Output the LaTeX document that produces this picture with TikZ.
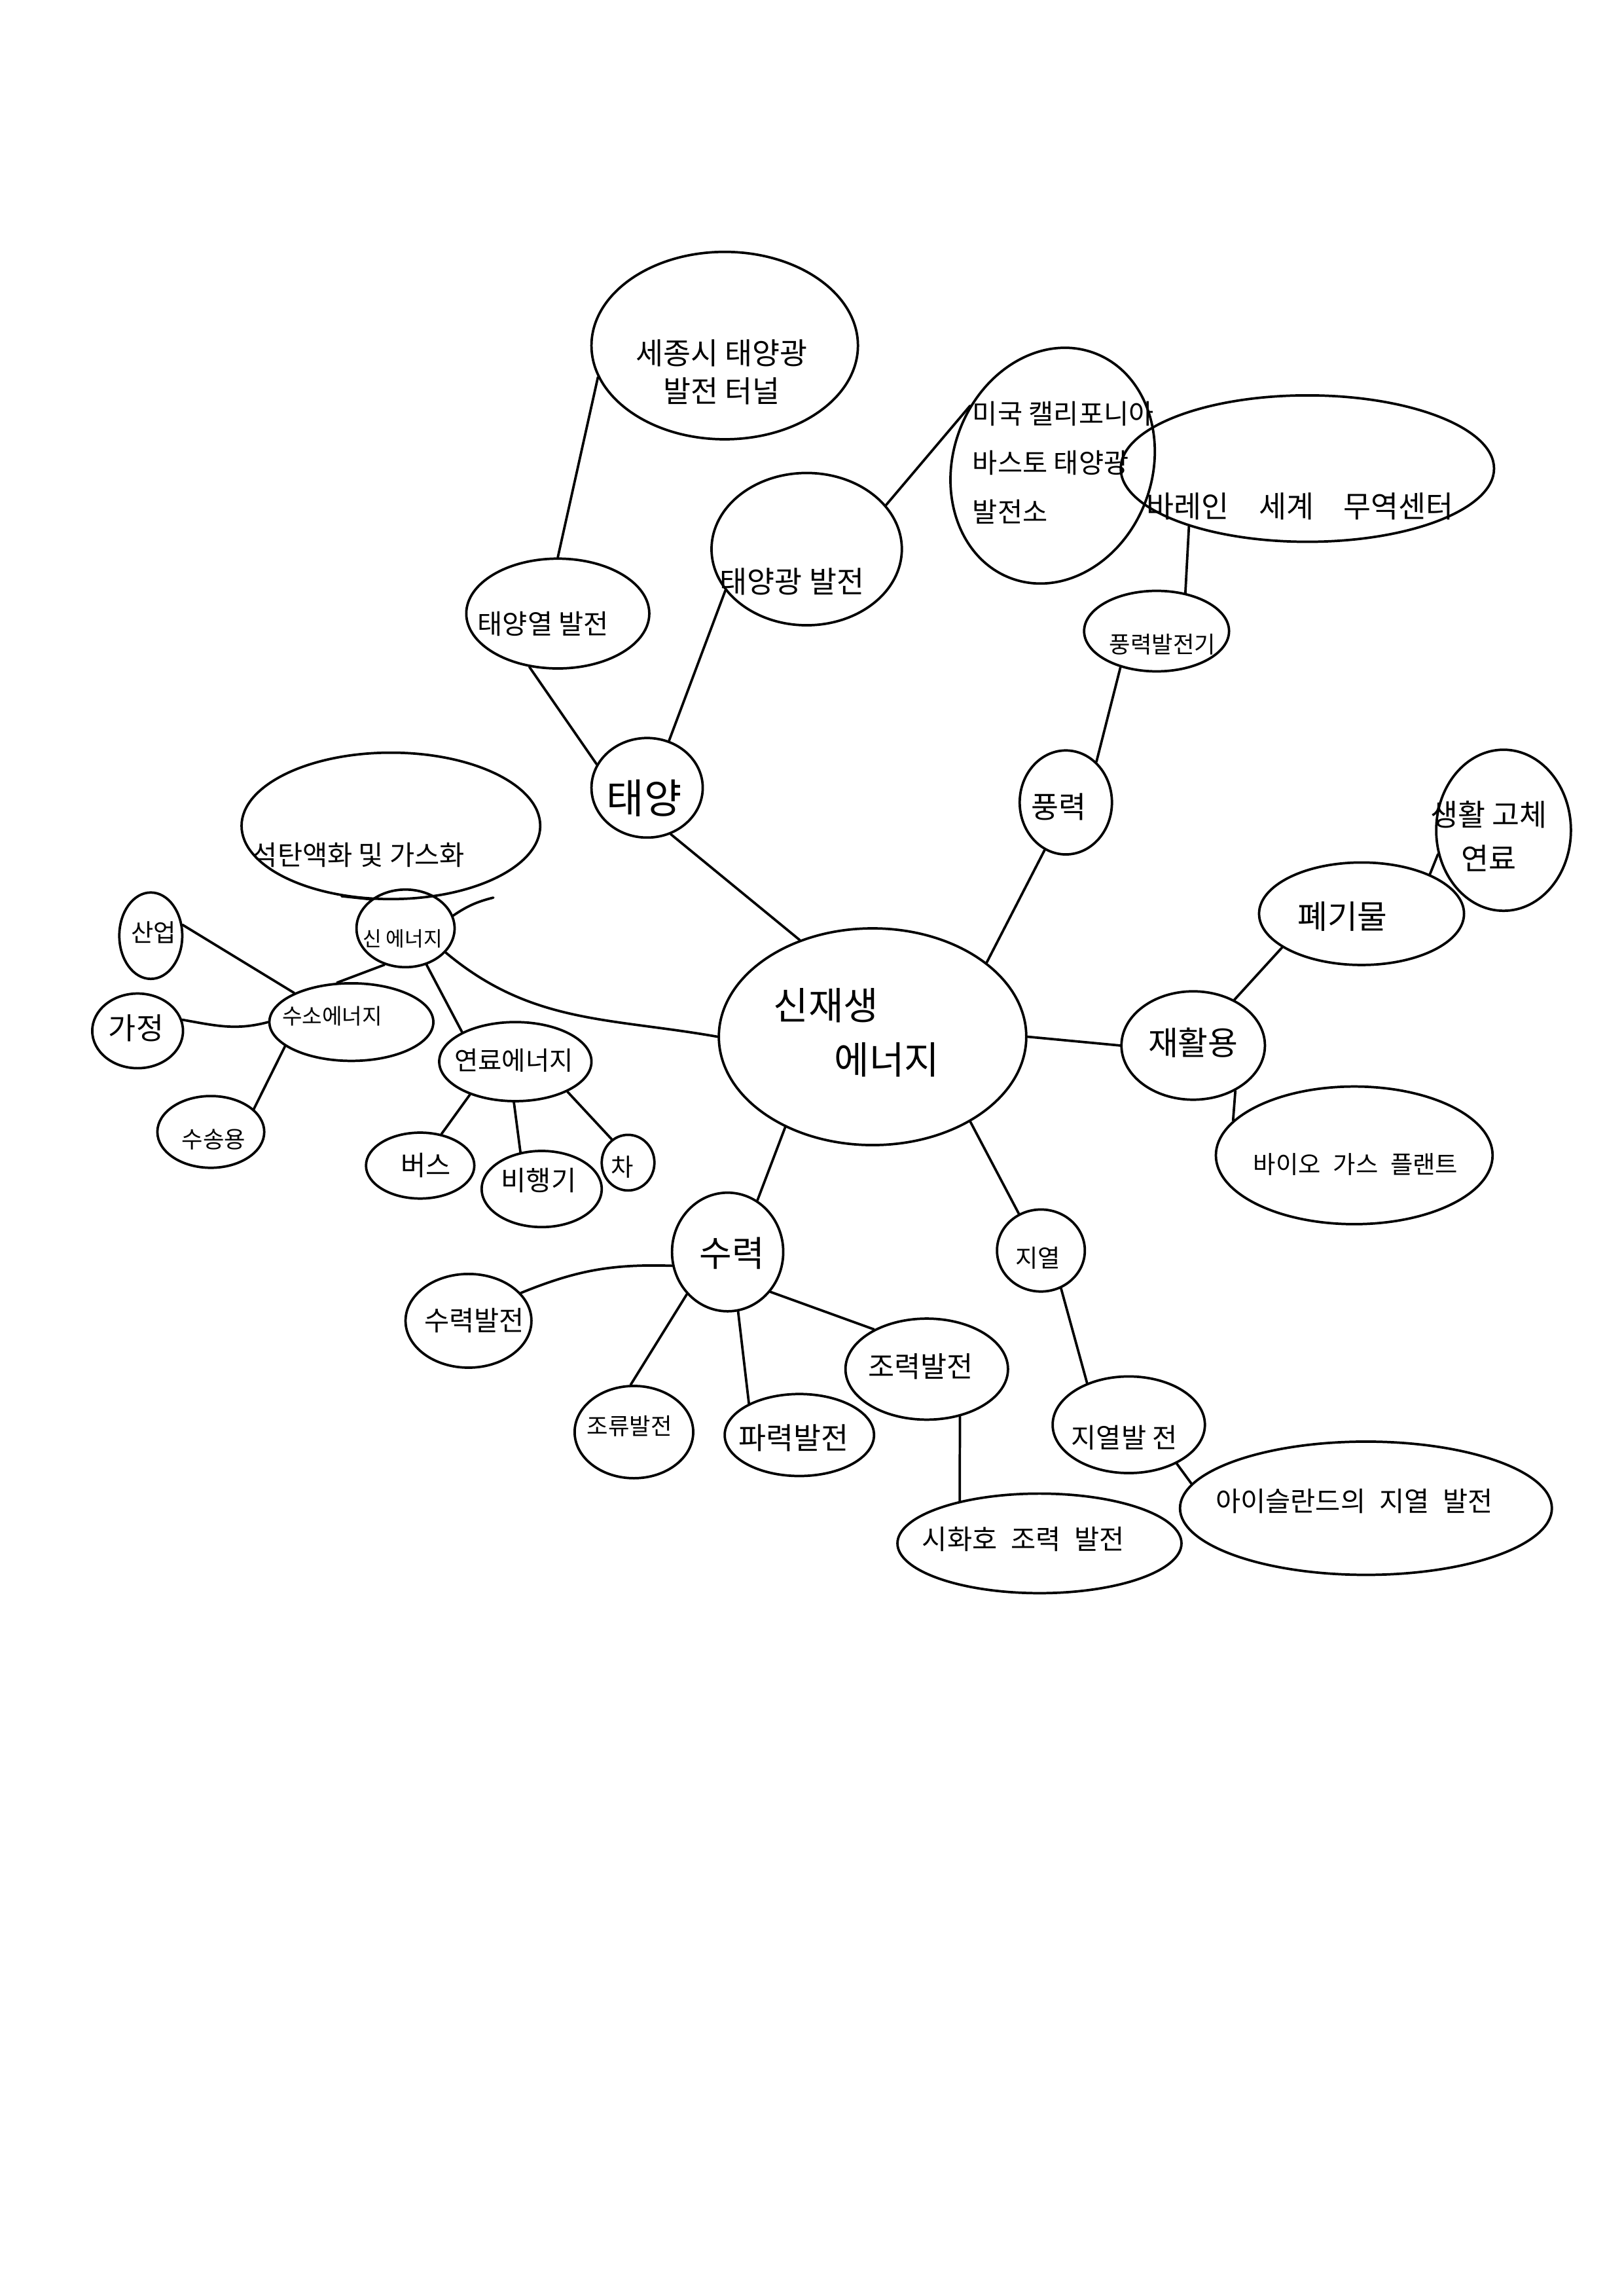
\documentclass[tikz,border=0pt]{standalone}
\usepackage{fontspec}
\setmainfont{Noto Sans CJK KR}
\usetikzlibrary{shapes.geometric}
\tikzset{
    sketch map/.style = {x=0.18936mm, y=-0.18936mm, line cap=round},
    link/.style       = {line width=0.9pt},
    blob/.style       = {draw, ellipse, line width=0.9pt, inner sep=0pt},
    sz/.style 2 args  = {minimum width=#1*0.18936mm, minimum height=#2*0.18936mm},
    lab/.style        = {inner sep=0pt, align=center,
                         font=\fontsize{#1}{#1}\selectfont}
}

\begin{document}
\begin{tikzpicture}[sketch map]
\useasboundingbox (0,0) rectangle (1109,1568);

% ================= Centre =================
\node[blob, sz={210}{148}] (core) at (596,708) {};
\node[lab=14, align=left] (core-t) at (585,705) {신재생\\[6pt]\hspace*{1.6em}에너지};

% ================= Sun branch =================
\node[blob, sz={76}{68}] (sun) at (442,538) {};
\node[lab=15] (sun-t) at (440,545) {태양};
\node[blob, sz={125}{75}] (solheat) at (381,419) {};
\node[lab=10] (solheat-t) at (371,426) {태양열 발전};
\node[blob, sz={130}{104}] (solpv) at (551,375) {};
\node[lab=11] (solpv-t) at (541,397) {태양광 발전};
\node[blob, sz={182}{128}] (sejong) at (495,236) {};
\node[lab=11] (sejong-t) at (493,254) {세종시 태양광\\[3pt]발전 터널};
\node[blob, sz={136}{164}, rotate=-20] (usa) at (719,318) {};
\node[lab=10, align=left, anchor=west] (usa-t) at (664,316)
    {미국 캘리포니아\\[8pt]바스토 태양광\\[8pt]발전소};

\draw[link] (sun.-63) -- (core.127);
\draw[link] (solheat.-118) -- (sun.155);
\draw[link] (solpv.-153) -- (sun.65);
\draw[link] (solheat.90) -- (sejong.-166);
\draw[link] (solpv.29) -- (usa.164);

% ================= Wind branch =================
\node[blob, sz={63}{71}] (wind) at (728,548) {};
\node[lab=11] (wind-t) at (723,551) {풍력};
\node[blob, sz={99}{55}] (turbine) at (790,431) {};
\node[lab=8.5] (turbine-t) at (794,440) {풍력발전기};
\node[blob, sz={255}{100}] (bahrain) at (893,320) {};
\node[lab=11] (bahrain-t) at (888,346) {바레인\quad 세계\quad 무역센터};

\draw[link] (wind.-114) -- (core.33);
\draw[link] (turbine.-135) -- (wind.53);
\draw[link] (bahrain.-154) -- (turbine.53);

% ================= Recycling branch =================
\node[blob, sz={98}{74}] (recycle) at (815,714) {};
\node[lab=12] (recycle-t) at (815,712) {재활용};
\node[blob, sz={140}{70}] (waste) at (930,624) {};
\node[lab=12] (waste-t) at (917,626) {폐기물};
\node[blob, sz={92}{110}] (solidfuel) at (1027,567) {};
\node[lab=11] (solidfuel-t) at (1017,571) {생활 고체\\[5pt]연료};
\node[blob, sz={189}{94}] (biogas) at (925,789) {};
\node[lab=9] (biogas-t) at (926,795) {바이오\enspace 가스\enspace 플랜트};

\draw[link] (core.east) -- (recycle.west);
\draw[link] (recycle.48) -- (waste.-157);
\draw[link] (waste.30) -- (solidfuel.-160);
\draw[link] (recycle.-47) -- (biogas.164);

% ================= Geothermal branch =================
\node[blob, sz={60}{56}] (geo) at (711,854) {};
\node[lab=9] (geo-t) at (709,859) {지열};
\node[blob, sz={104}{66}] (geopow) at (771,973) {};
\node[lab=10] (geopow-t) at (768,982) {지열발 전};
\node[blob, sz={254}{91}] (iceland) at (933,1030) {};
\node[lab=10] (iceland-t) at (925,1025) {아이슬란드의\enspace 지열\enspace 발전};

\draw[link] (core.-41) -- (geo.121);
\draw[link] (geo.-62) -- (geopow.135);
\draw[link] (geopow.-39) -- (iceland.172);

% ================= Hydro branch =================
\node[blob, sz={76}{81}] (hydro) at (497,855) {};
\node[lab=13] (hydro-t) at (500,856) {수력};
\node[blob, sz={86}{64}] (hydpow) at (320,902) {};
\node[lab=10] (hydpow-t) at (324,902) {수력발전};
\node[blob, sz={81}{63}] (stream) at (433,978) {};
\node[lab=8.5] (stream-t) at (430,974) {조류발전};
\node[blob, sz={102}{56}] (wave) at (546,980) {};
\node[lab=11] (wave-t) at (542,982) {파력발전};
\node[blob, sz={111}{69}] (tidal) at (633,935) {};
\node[lab=10.5] (tidal-t) at (629,933) {조력발전};
\node[blob, sz={194}{68}] (sihwa) at (710,1054) {};
\node[lab=10] (sihwa-t) at (699,1051) {시화호\enspace 조력\enspace 발전};

\draw[link] (core.-134) -- (hydro.60);
\draw[link] (hydro.-166) to[bend right=12] (hydpow.28);
\draw[link] (hydro.-134) -- (stream.94);
\draw[link] (hydro.-80) -- (wave.148);
\draw[link] (hydro.-43) -- (tidal.143);
\draw[link] (tidal.-55) -- (sihwa.152);

% ================= New energy branch =================
\node[blob, sz={67}{53}] (newe) at (277,634) {};
\node[lab=7.5] (newe-t) at (275,641) {신 에너지};
\node[blob, sz={204}{100}] (coal) at (267,564) {};
\node[lab=10] (coal-t) at (245,584) {석탄액화 및 가스화};
\node[blob, sz={112}{53}] (hydrogen) at (240,698) {};
\node[lab=8] (hydrogen-t) at (227,694) {수소에너지};
\node[blob, sz={104}{54}] (fuel) at (352,725) {};
\node[lab=9.5] (fuel-t) at (351,724) {연료에너지};
\coordinate (newe-tail) at (337,613);

\draw[link] (newe.-31) to[out=-40, in=170] (core.west);
\draw[link] (newe.140) -- (coal.-125);
\draw[link] (newe.15) to[bend left=10] (newe-tail);
\draw[link] (newe.-120) -- (hydrogen.110);
\draw[link] (newe.-60) -- (fuel.151);

% ================= Hydrogen uses =================
\node[blob, sz={43}{59}] (industry) at (103,639) {};
\node[lab=9] (industry-t) at (105,637) {산업};
\node[blob, sz={62}{51}] (home) at (94,704) {};
\node[lab=11] (home-t) at (93,702) {가정};
\node[blob, sz={73}{49}] (transport) at (144,773) {};
\node[lab=8.5] (transport-t) at (146,778) {수송용};

\draw[link] (hydrogen.153) -- (industry.19);
\draw[link] (hydrogen.west) to[out=195, in=-10] (home.14);
\draw[link] (hydrogen.-160) -- (transport.28);

% ================= Fuel uses =================
\node[blob, sz={74}{45}] (bus) at (287,796) {};
\node[lab=10] (bus-t) at (291,796) {버스};
\node[blob, sz={82}{52}] (plane) at (370,812) {};
\node[lab=10] (plane-t) at (368,806) {비행기};
\node[blob, sz={36}{38}] (car) at (429,794) {};
\node[lab=9] (car-t) at (425,797) {차};

\draw[link] (fuel.-144) -- (bus.56);
\draw[link] (fuel.-92) -- (plane.120);
\draw[link] (fuel.-30) -- (car.125);

\end{tikzpicture}
\end{document}
